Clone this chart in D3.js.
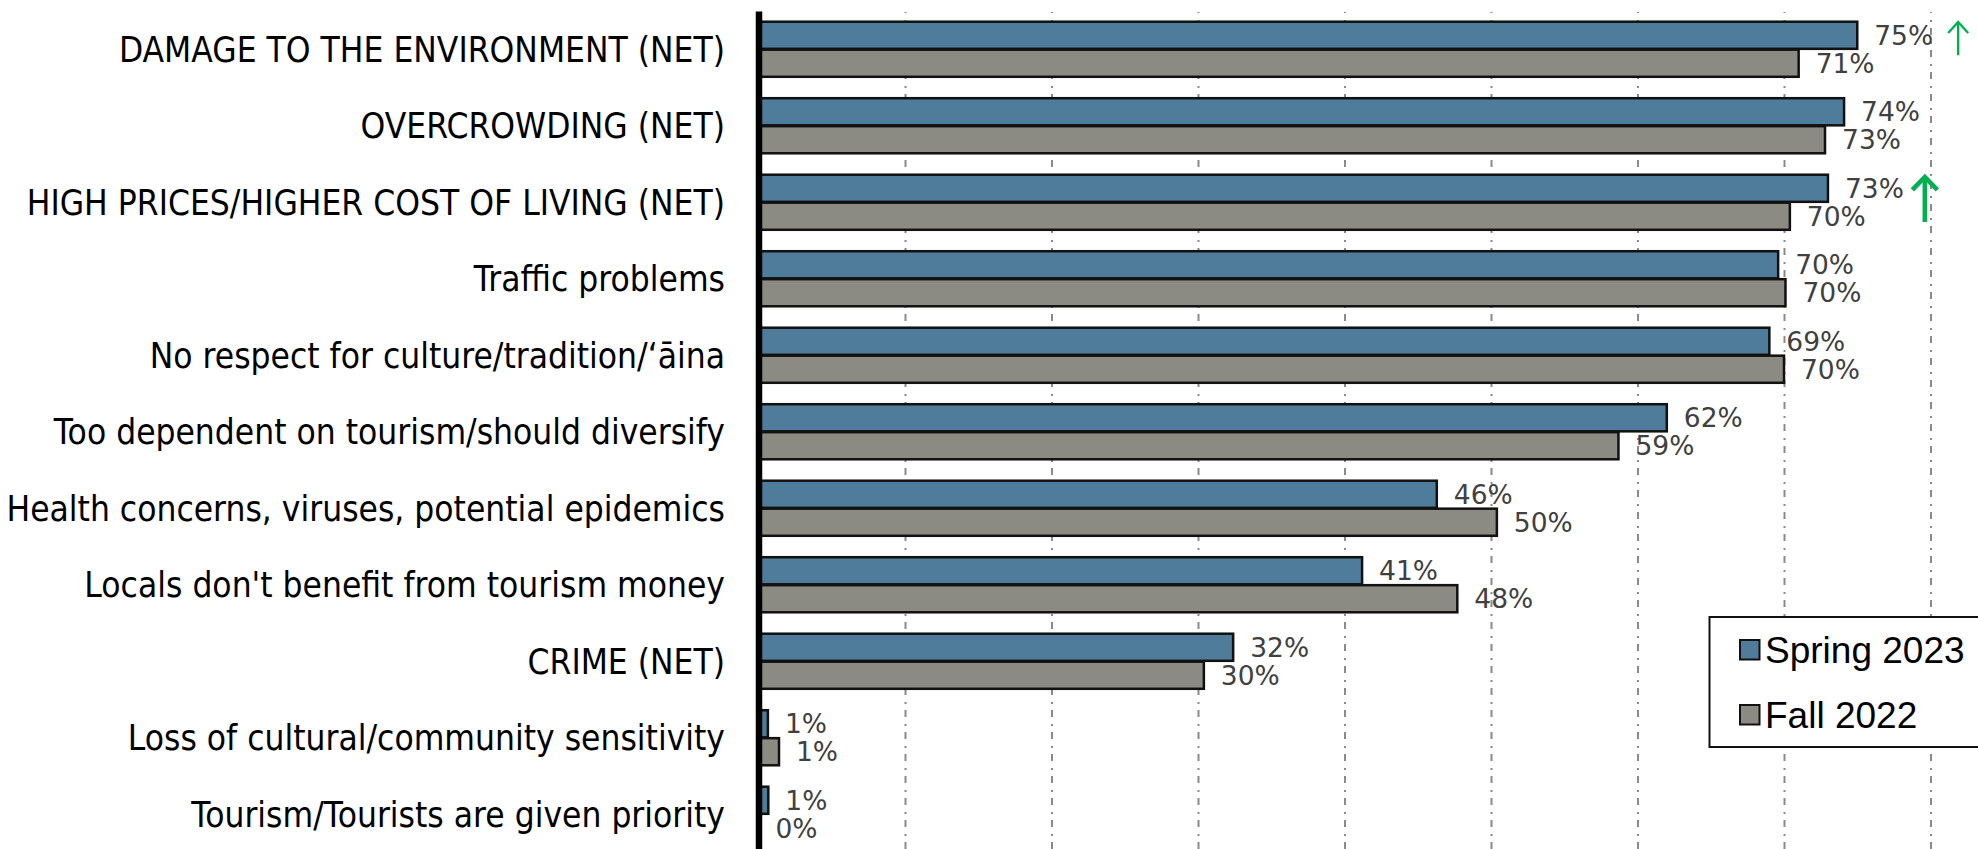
<!DOCTYPE html>
<html>
<head>
<meta charset="utf-8">
<script src="https://cdn.jsdelivr.net/npm/d3@7"></script>
<style>
  html, body { margin: 0; padding: 0; background: #fff; }
  svg { display: block; }
</style>
</head>
<body>
<svg id="chart" width="1978" height="849"></svg>
<script>
// ---- data ----
const categories = [
  "DAMAGE TO THE ENVIRONMENT (NET)",
  "OVERCROWDING (NET)",
  "HIGH PRICES/HIGHER COST OF LIVING (NET)",
  "Traffic problems",
  "No respect for culture/tradition/\u2018\u0101ina",
  "Too dependent on tourism/should diversify",
  "Health concerns, viruses, potential epidemics",
  "Locals don't benefit from tourism money",
  "CRIME (NET)",
  "Loss of cultural/community sensitivity",
  "Tourism/Tourists are given priority"
];
const seriesNames = ["Spring 2023", "Fall 2022"];
const spring2023 = [75.0, 74.1, 73.0, 69.6, 69.0, 62.0, 46.3, 41.2, 32.4, 0.64, 0.67];
const fall2022   = [71.0, 72.8, 70.4, 70.1, 70.0, 58.7, 50.4, 47.7, 30.4, 1.4, 0];
const xTicks = [10, 20, 30, 40, 50, 60, 70, 80];
const upArrowCategories = ["DAMAGE TO THE ENVIRONMENT (NET)", "HIGH PRICES/HIGHER COST OF LIVING (NET)"];

// ---- styling ----
const colors = { "Spring 2023": "#4e7c9a", "Fall 2022": "#8b8b84" };
const arrowStyles = [
  { dx: 25, top: -27.3, bottom: 6, half: 10, head: 11, width: 2.4 },
  { dx: 21, top: -25.3, bottom: 19.7, half: 12.5, head: 13, width: 4.6 }
];

const svg = d3.select("#chart");
const W = 1978, H = 849;

const x = d3.scaleLinear().domain([0, 80]).range([758.5, 1930.5]);
const y = d3.scaleBand().domain(categories).range([11, 852.5]).paddingInner(0.28).paddingOuter(0.14);
const y1 = d3.scaleBand().domain(seriesNames).range([0, y.bandwidth()]).paddingInner(0.03);

const rows = categories.map((c, i) => ({ cat: c, vals: [
  { s: "Spring 2023", v: spring2023[i] },
  { s: "Fall 2022", v: fall2022[i] }
]}));

// gridlines
const grid = svg.append("g").attr("class", "grid")
  .attr("transform", `translate(0,${H})`)
  .call(d3.axisBottom(x).tickValues(xTicks).tickSize(-(H - 12)).tickFormat(""));
grid.select(".domain").remove();
grid.selectAll(".tick line")
  .attr("stroke", "#8a8a8a")
  .attr("stroke-width", 2)
  .attr("stroke-dasharray", "7,6,2,7");

// bars
const groups = svg.append("g").selectAll("g").data(rows).join("g")
  .attr("transform", d => `translate(0,${y(d.cat)})`);

groups.selectAll("rect").data(d => d.vals.filter(e => e.v > 0)).join("rect")
  .attr("x", x(0))
  .attr("y", d => y1(d.s))
  .attr("width", d => x(d.v) - x(0))
  .attr("height", y1.bandwidth())
  .attr("fill", d => colors[d.s])
  .attr("stroke", "#111")
  .attr("stroke-width", 2.5);

// value labels
groups.selectAll("text.val").data(d => d.vals).join("text")
  .attr("class", "val")
  .attr("x", d => x(d.v) + 17)
  .attr("y", d => y1(d.s) + y1.bandwidth() / 2)
  .attr("dy", "0.36em")
  .attr("font-family", "'DejaVu Sans', sans-serif")
  .attr("font-size", 26.5)
  .attr("fill", "#404040")
  .text(d => Math.round(d.v) + "%");

// up arrows
upArrowCategories.forEach((cat, k) => {
  const st = arrowStyles[k];
  const g = groups.filter(d => d.cat === cat);
  const lbl = g.selectAll("text.val").filter(d => d.s === "Spring 2023");
  const node = lbl.node();
  const endX = +lbl.attr("x") + node.getComputedTextLength();
  const cx = endX + st.dx;
  const cy = y.bandwidth() / 2;
  const ag = g.append("g").attr("stroke", "#00b050").attr("fill", "none")
    .attr("stroke-width", st.width).attr("stroke-linecap", "butt");
  ag.append("line").attr("x1", cx).attr("x2", cx)
    .attr("y1", cy + st.top + 1).attr("y2", cy + st.bottom);
  ag.append("path")
    .attr("stroke-linejoin", "miter")
    .attr("d", `M${cx - st.half},${cy + st.top + st.head} L${cx},${cy + st.top} L${cx + st.half},${cy + st.top + st.head}`);
});

// category labels
svg.append("g").selectAll("text").data(categories).join("text")
  .attr("transform", d => `translate(725,${y(d) + y.bandwidth() / 2}) scale(0.9,1)`)
  .attr("text-anchor", "end")
  .attr("dy", "0.35em")
  .attr("font-family", "'DejaVu Sans', sans-serif")
  .attr("font-size", 35)
  .attr("fill", "#000")
  .text(d => d);

// y axis line
svg.append("line")
  .attr("x1", 759).attr("x2", 759)
  .attr("y1", 11.5).attr("y2", H)
  .attr("stroke", "#000").attr("stroke-width", 6.5);

// legend
const lg = svg.append("g").attr("class", "legend");
lg.append("rect")
  .attr("x", 1709.5).attr("y", 617).attr("width", 290).attr("height", 130)
  .attr("fill", "#fff").attr("stroke", "#111").attr("stroke-width", 2);
const items = lg.selectAll("g.item").data(seriesNames).join("g")
  .attr("class", "item")
  .attr("transform", (d, i) => `translate(1740,${640 + i * 65})`);
items.append("rect")
  .attr("width", 19.5).attr("height", 19.5)
  .attr("fill", d => colors[d]).attr("stroke", "#111").attr("stroke-width", 2);
items.append("text")
  .attr("x", 25).attr("y", 10)
  .attr("dy", "0.36em")
  .attr("font-family", "'Liberation Sans', Arial, sans-serif")
  .attr("font-size", 37)
  .attr("fill", "#000")
  .text(d => d);
</script>
</body>
</html>
